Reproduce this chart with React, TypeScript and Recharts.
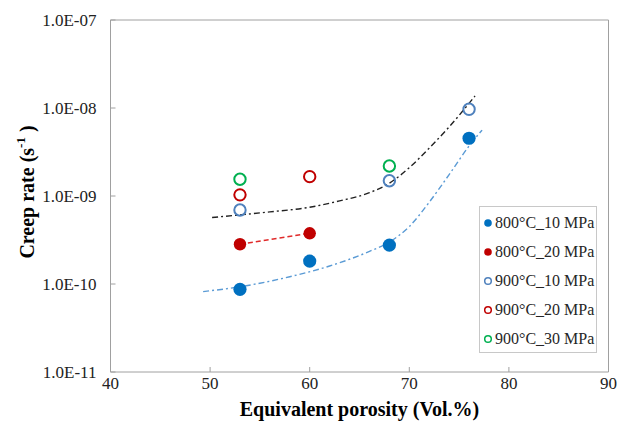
import { ComposedChart, Scatter, Line, XAxis, YAxis, Legend, ReferenceLine } from 'recharts'

const FONT = '"Liberation Serif", "Times New Roman", serif'

// measured points (x = equivalent porosity, y = creep rate)
const por800_10 = [53, 60, 68, 76]
const rate800_10 = [8.7e-11, 1.82e-10, 2.77e-10, 4.53e-9]

const por800_20 = [53, 60]
const rate800_20 = [2.83e-10, 3.77e-10]

const por900_10 = [53, 68, 76]
const rate900_10 = [6.93e-10, 1.49e-9, 9.66e-9]

const por900_20 = [53, 60]
const rate900_20 = [1.03e-9, 1.66e-9]

const por900_30 = [53, 68]
const rate900_30 = [1.55e-9, 2.19e-9]

// trend curves
const blackTrendX = [50.2, 53, 56, 60, 63, 66, 68, 70, 72, 74, 76.6]
const blackTrendY = [5.7e-10, 6.1e-10, 6.6e-10, 7.45e-10, 8.8e-10, 1.09e-9, 1.4e-9, 2.1e-9, 3.5e-9, 6.1e-9, 1.37e-8]

const blueTrendX = [49.3, 53, 58, 62, 66, 68, 70, 72, 74, 76, 77.3]
const blueTrendY = [8.2e-11, 9.3e-11, 1.21e-10, 1.6e-10, 2.35e-10, 3.0e-10, 4.5e-10, 8.5e-10, 1.75e-9, 3.7e-9, 5.6e-9]

const xTicks = [40, 50, 60, 70, 80, 90]
const yTicks = [1e-11, 1e-10, 1e-9, 1e-8, 1e-7]

const rows = (xs: number[], ys: number[]) => xs.map((x, i) => ({ x, y: ys[i] }))

const fmtExp = (v: number) => {
  const [m, e] = v.toExponential(1).split('e')
  const n = Number(e)
  return `${m}E${n < 0 ? '-' : '+'}${String(Math.abs(n)).padStart(2, '0')}`
}

type Marker = { name: string; color: string; hollow: boolean }

const markers: Marker[] = [
  { name: '800°C_10 MPa', color: '#0070C0', hollow: false },
  { name: '800°C_20 MPa', color: '#C00000', hollow: false },
  { name: '900°C_10 MPa', color: '#4F81BD', hollow: true },
  { name: '900°C_20 MPa', color: '#C00000', hollow: true },
  { name: '900°C_30 MPa', color: '#00B050', hollow: true },
]

const dot = (m: Marker, r: number) => (p: any) =>
  m.hollow
    ? <circle cx={p.cx} cy={p.cy} r={5.7} fill="none" stroke={m.color} strokeWidth={2} />
    : <circle cx={p.cx} cy={p.cy} r={r} fill={m.color} />

function LegendBox() {
  return (
    <div style={{
      boxSizing: 'border-box', width: 118, height: 147, border: '1px solid #c8c8c8',
      background: '#fff', paddingTop: 1, fontFamily: FONT, fontSize: 16, color: '#262626',
    }}>
      {markers.map(m => (
        <div key={m.name} style={{ height: 29.1, display: 'flex', alignItems: 'center', whiteSpace: 'nowrap' }}>
          <svg width={10} height={10} style={{ marginLeft: 3, marginRight: 2 }}>
            {m.hollow
              ? <circle cx={5} cy={5} r={3.3} fill="none" stroke={m.color} strokeWidth={1.5} />
              : <circle cx={5} cy={5} r={3.8} fill={m.color} />}
          </svg>
          <span>{m.name}</span>
        </div>
      ))}
    </div>
  )
}

const YLabel = () => (
  <text
    x={27} y={192} transform="rotate(-90 27 192)" textAnchor="middle" dominantBaseline="central"
    fontFamily={FONT} fontSize={20} fontWeight="bold" fill="#000"
  >
    Creep rate (s<tspan dy={-7} fontSize={13}>-1</tspan><tspan dy={7}> )</tspan>
  </text>
)

export default function App() {
  return (
    <div style={{ position: 'absolute', left: 0, top: 0 }}>
      <ComposedChart width={619} height={423} margin={{ top: 20, right: 10.5, bottom: 0, left: 0 }}>
        <XAxis
          type="number" dataKey="x" domain={[40, 90]} ticks={xTicks} allowDataOverflow
          height={51} tickSize={-5} tickMargin={10} stroke="#a0a0a0"
          tick={{ fill: '#222', fontSize: 17, fontFamily: FONT }}
          label={{
            value: 'Equivalent porosity (Vol.%)', position: 'insideBottom', offset: 7,
            fill: '#000', fontSize: 20, fontWeight: 'bold', fontFamily: FONT,
          }}
        />
        <YAxis
          type="number" dataKey="y" scale="log" domain={[1e-11, 1e-7]} ticks={yTicks} allowDataOverflow
          width={110.5} tickSize={-5} tickMargin={19} stroke="#a0a0a0" tickFormatter={fmtExp}
          tick={{ fill: '#222', fontSize: 17, fontFamily: FONT }}
          label={{ content: () => <YLabel /> }}
        />
        <ReferenceLine y={1e-7} stroke="#a0a0a0" />
        <ReferenceLine x={90} stroke="#a0a0a0" />

        <Line
          data={rows(blackTrendX, blackTrendY)} dataKey="y" type="monotone" stroke="#222"
          strokeWidth={1.4} strokeDasharray="6 3 2 3" dot={false} isAnimationActive={false}
        />
        <Line
          data={rows(blueTrendX, blueTrendY)} dataKey="y" type="monotone" stroke="#5B9BD5"
          strokeWidth={1.4} strokeDasharray="6 3 2 3" dot={false} isAnimationActive={false}
        />
        <Line
          data={rows(por800_20, rate800_20)} dataKey="y" type="linear" stroke="#E02A2A"
          strokeWidth={1.5} strokeDasharray="5 3" dot={false} isAnimationActive={false}
        />

        <Scatter data={rows(por800_10, rate800_10)} shape={dot(markers[0], 6.6)} isAnimationActive={false} />
        <Scatter data={rows(por800_20, rate800_20)} shape={dot(markers[1], 6.2)} isAnimationActive={false} />
        <Scatter data={rows(por900_10, rate900_10)} shape={dot(markers[2], 6)} isAnimationActive={false} />
        <Scatter data={rows(por900_20, rate900_20)} shape={dot(markers[3], 6)} isAnimationActive={false} />
        <Scatter data={rows(por900_30, rate900_30)} shape={dot(markers[4], 6)} isAnimationActive={false} />

        <Legend
          layout="vertical" align="center" verticalAlign="middle"
          wrapperStyle={{ left: 479, top: 206, width: 118, height: 147 }}
          content={() => <LegendBox />}
        />
      </ComposedChart>
    </div>
  )
}
